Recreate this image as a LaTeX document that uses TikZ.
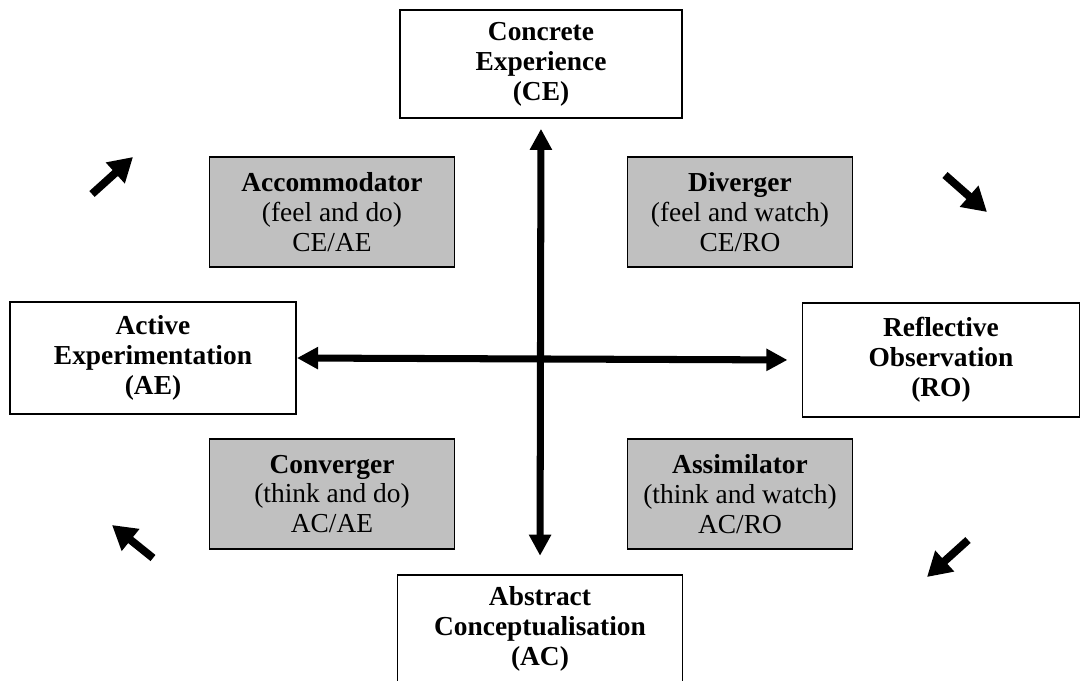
\documentclass[tikz,border=0pt]{standalone}
\usepackage{fontspec}
\setmainfont{Liberation Serif}
\usetikzlibrary{arrows.meta}

\tikzset{
  stagebox/.style={draw, line width=1.4pt, fill=white, align=center, inner sep=0pt,
    font=\fontsize{19.5}{21.3}\selectfont\bfseries},
  stylebox/.style={draw, line width=1.1pt, fill={rgb,255:red,192;green,192;blue,192}, align=center, inner sep=0pt,
    minimum width=245*0.025cm, minimum height=110*0.025cm, font=\fontsize{19.5}{21.3}\selectfont},
  bigarrow/.style={line width=5pt, {Triangle[length=15pt,width=15pt]}-{Triangle[length=15pt,width=15pt]}},
  cyclearrow/.style={line width=5.6pt, -{Triangle[length=17pt,width=19pt]}}
}

\begin{document}
\begin{tikzpicture}[x=0.025cm,y=-0.025cm]
\useasboundingbox (0,0) rectangle (1086,680);

\node [stagebox, minimum width=282*0.025cm, minimum height=108*0.025cm] (ce) at (541,64) {Concrete\\Experience\\(CE)};
\node [stagebox, minimum width=286*0.025cm, minimum height=112*0.025cm] (ae) at (153,358) {Active\\Experimentation\\(AE)};
\node [stagebox, minimum width=277*0.025cm, minimum height=114*0.025cm] (ro) at (941,360) {Reflective\\Observation\\(RO)};
\node [stagebox, minimum width=285*0.025cm, minimum height=108*0.025cm] (ac) at (540,629) {Abstract\\Conceptualisation\\(AC)};

\node [stylebox] (acc) at (332,212) {\textbf{Accommodator}\\(feel and do)\\CE/AE};
\node [stylebox, minimum width=225*0.025cm] (div) at (740,212) {\textbf{Diverger}\\(feel and watch)\\CE/RO};
\node [stylebox] (con) at (332,494) {\textbf{Converger}\\(think and do)\\AC/AE};
\node [stylebox, minimum width=225*0.025cm] (ass) at (740,494) {\textbf{Assimilator}\\(think and watch)\\AC/RO};

\draw [bigarrow, shorten <=7pt, shorten >=13pt] (ce.south) -- (ac.north);
\draw [bigarrow, shorten <=0pt, shorten >=10pt] (ae.east) -- (ro.west);

\coordinate (tl1) at (92,194);  \coordinate (tl2) at (133,157);
\coordinate (tr1) at (945,175); \coordinate (tr2) at (987,212);
\coordinate (br1) at (968,540); \coordinate (br2) at (927,577);
\coordinate (bl1) at (153,558); \coordinate (bl2) at (112,525);
\draw [cyclearrow] (tl1) -- (tl2);
\draw [cyclearrow] (tr1) -- (tr2);
\draw [cyclearrow] (br1) -- (br2);
\draw [cyclearrow] (bl1) -- (bl2);

\end{tikzpicture}
\end{document}
